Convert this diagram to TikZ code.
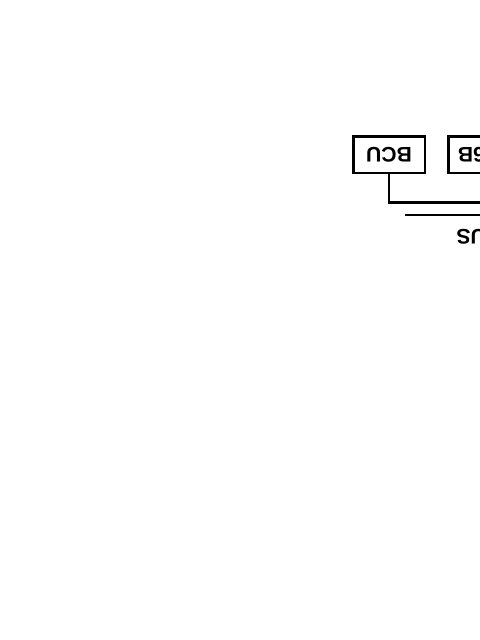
\documentclass[tikz,border=0pt]{standalone}
\usepackage{fontspec}
\usepackage{graphicx}
\setmainfont{Liberation Sans}
\usetikzlibrary{positioning}

\begin{document}
\begin{tikzpicture}[
            x=0.02cm, y=-0.02cm,
            line width=1.7pt,
            unit/.style={draw, rectangle, minimum width=1.44cm, minimum height=0.74cm,
                inner sep=0.2cm, font=\fontsize{12}{14}\selectfont\bfseries}
        ]

        \useasboundingbox[fill=white] (0,0) rectangle (480,640);
        \clip (0,0) rectangle (480,640);

        % units, drawn upside down
        \node[unit] (bcu) at (389,154.5) {\rotatebox{180}{BCU}};
        \node[unit, text width=1.04cm, align=left] (gw) at (484,154.5) {\rotatebox{180}{6B}};

        % bus
        \coordinate (tap) at (500,202.5);
        \coordinate (busl) at (405,215);
        \coordinate (busr) at (500,215);
        \node[inner sep=0pt, anchor=north west, font=\fontsize{12}{14}\selectfont\bfseries]
            (buslabel) at (455,227.5) {\rotatebox{180}{US}};

        \draw (bcu.south) |- (tap);
        \draw (busl) -- (busr);

    \end{tikzpicture}
\end{document}
